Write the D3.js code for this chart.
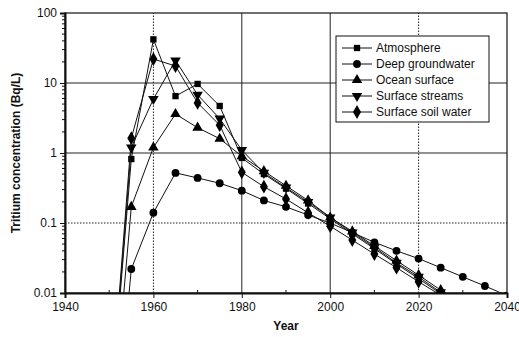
<html>
<head>
<script src="https://d3js.org/d3.v7.min.js"></script>
<style>
body { margin: 0; background: #fff; font-family: Arial, "Liberation Sans", sans-serif; }
svg text { fill: #111; }
</style>
</head>
<body>
<div id="chart"></div>
<script>

var width = 519, height = 337;
var margin = { left: 65, right: 12, top: 13, bottom: 44 };

// data
var years = [1950, 1955, 1960, 1965, 1970, 1975, 1980, 1985, 1990, 1995, 2000, 2005, 2010, 2015, 2020, 2025, 2030, 2035, 2040];
var atmosphere = [0.00012, 0.82, 42, 6.5, 9.7, 4.7, 0.85, 0.5, 0.31, 0.19, 0.115, 0.07, 0.043, 0.026, 0.016, 0.0098];
var deepGroundwater = [0.000009, 0.022, 0.14, 0.52, 0.44, 0.37, 0.29, 0.21, 0.17, 0.13, 0.1, 0.073, 0.053, 0.04, 0.031, 0.023, 0.017, 0.0126, 0.0092];
var oceanSurface = [0.00004, 0.17, 1.2, 3.6, 2.3, 1.6, 0.9, 0.55, 0.34, 0.21, 0.12, 0.076, 0.047, 0.029, 0.018, 0.011];
var surfaceStreams = [0.00012, 1.2, 5.9, 21, 6.8, 3.1, 1.1, 0.52, 0.32, 0.2, 0.12, 0.073, 0.045, 0.027, 0.017, 0.0102];
var soilWater = [0.00013, 1.63, 22, 17.5, 5.2, 2.5, 0.53, 0.33, 0.22, 0.14, 0.09, 0.057, 0.036, 0.023, 0.0145, 0.0093];

var seriesNames = ["Atmosphere", "Deep groundwater", "Ocean surface", "Surface streams", "Surface soil water"];
var seriesValues = [atmosphere, deepGroundwater, oceanSurface, surfaceStreams, soilWater];
var markerTypes = [d3.symbolSquare, d3.symbolCircle, d3.symbolTriangle, d3.symbolTriangle, d3.symbolDiamond];
var markerSizes = [40, 48, 48, 48, 55];
var markerRotate = [0, 0, 0, 180, 0];

var yTicks = [0.01, 0.1, 1, 10, 100];
var yTickLabels = ["0.01", "0.1", "1", "10", "100"];
var xTicks = [1940, 1960, 1980, 2000, 2020, 2040];

var svg = d3.select("#chart").append("svg")
  .attr("width", width).attr("height", height);

var x = d3.scaleLinear().domain([1940, 2040]).range([margin.left, width - margin.right]);
var y = d3.scaleLog().domain([0.01, 100]).range([height - margin.bottom, margin.top]);

svg.append("defs").append("clipPath").attr("id", "plotclip")
  .append("rect")
  .attr("x", x(1940)).attr("y", y(100))
  .attr("width", x(2040) - x(1940)).attr("height", y(0.01) - y(100));

// gridlines
var dotted = { 0.1: true };
svg.append("g").selectAll("line").data([1, 10, 0.1]).enter().append("line")
  .attr("x1", x(1940)).attr("x2", x(2040))
  .attr("y1", function (d) { return y(d); }).attr("y2", function (d) { return y(d); })
  .attr("stroke", "#222").attr("stroke-width", 1)
  .attr("stroke-dasharray", function (d) { return dotted[d] ? "1.5,1.5" : null; });
svg.append("g").selectAll("line").data([1960, 1980, 2000, 2020]).enter().append("line")
  .attr("y1", y(0.01)).attr("y2", y(100))
  .attr("x1", function (d) { return x(d); }).attr("x2", function (d) { return x(d); })
  .attr("stroke", "#222").attr("stroke-width", 1)
  .attr("stroke-dasharray", function (d) { return d === 2020 || d === 1960 ? "1.5,1.5" : null; });

// frame
svg.append("rect")
  .attr("x", x(1940)).attr("y", y(100))
  .attr("width", x(2040) - x(1940)).attr("height", y(0.01) - y(100))
  .attr("fill", "none").attr("stroke", "#111").attr("stroke-width", 1.2);

// axes
var yAxis = d3.axisLeft(y).tickValues(yTicks)
  .tickFormat(function (d, i) { return yTickLabels[i]; })
  .tickSize(5).tickPadding(3);
var gy = svg.append("g").attr("transform", "translate(" + x(1940) + ",0)").call(yAxis);
var minor = [];
yTicks.slice(0, -1).forEach(function (t) {
  for (var k = 2; k < 10; k++) minor.push(t * k);
});
gy.selectAll(".minor").data(minor).enter().append("line")
  .attr("class", "minor")
  .attr("x1", -3).attr("x2", 0)
  .attr("y1", function (d) { return y(d); }).attr("y2", function (d) { return y(d); })
  .attr("stroke", "#111");

var xAxis = d3.axisBottom(x).tickValues(xTicks).tickFormat(d3.format("d"))
  .tickSize(5).tickPadding(4);
var gx = svg.append("g").attr("transform", "translate(0," + y(0.01) + ")").call(xAxis);
gx.selectAll(".minor").data([1950, 1970, 1990, 2010, 2030]).enter().append("line")
  .attr("class", "minor")
  .attr("y1", -3).attr("y2", 0)
  .attr("x1", function (d) { return x(d); }).attr("x2", function (d) { return x(d); })
  .attr("stroke", "#111");

[gx, gy].forEach(function (g) {
  g.select(".domain").attr("stroke", "#111").attr("stroke-width", 2);
  g.selectAll(".tick line").attr("stroke", "#111");
  g.selectAll("text").attr("font-size", 12).attr("font-family", "Arial, 'Liberation Sans', sans-serif").attr("fill", "#111");
});

// axis titles
svg.append("text")
  .attr("x", x(1990)).attr("y", 330)
  .attr("text-anchor", "middle").attr("font-size", 12).attr("font-weight", "bold")
  .text("Year");
svg.append("text")
  .attr("transform", "translate(20," + y(1) + ") rotate(-90)")
  .attr("text-anchor", "middle").attr("font-size", 12).attr("font-weight", "bold")
  .text("Tritium concentration (Bq/L)");

// series
var line = d3.line()
  .x(function (d) { return x(d.year); })
  .y(function (d) { return y(d.value); });

var plot = svg.append("g").attr("clip-path", "url(#plotclip)");

seriesValues.forEach(function (vals, i) {
  var pts = vals.map(function (v, j) { return { year: years[j], value: v }; });
  plot.append("path").datum(pts)
    .attr("d", line)
    .attr("fill", "none").attr("stroke", "#111").attr("stroke-width", 1);
  plot.selectAll(".m" + i).data(pts).enter().append("path")
    .attr("class", "m" + i)
    .attr("d", d3.symbol().type(markerTypes[i]).size(markerSizes[i]))
    .attr("transform", function (d) {
      return "translate(" + x(d.year) + "," + y(d.value) + ") rotate(" + markerRotate[i] + ")";
    })
    .attr("fill", "#000");
});

// legend
var legend = svg.append("g").attr("transform", "translate(336,36)");
legend.append("rect")
  .attr("width", 153).attr("height", 86)
  .attr("fill", "#fff").attr("stroke", "#111").attr("stroke-width", 1);
seriesNames.forEach(function (name, i) {
  var row = legend.append("g").attr("transform", "translate(0," + (12 + i * 16) + ")");
  row.append("line").attr("x1", 6).attr("x2", 36).attr("stroke", "#111");
  row.append("path")
    .attr("d", d3.symbol().type(markerTypes[i]).size(markerSizes[i]))
    .attr("transform", "translate(21,0) rotate(" + markerRotate[i] + ")")
    .attr("fill", "#000");
  row.append("text").attr("x", 40).attr("y", 4)
    .attr("font-size", 12).text(name);
});

</script>
</body>
</html>
